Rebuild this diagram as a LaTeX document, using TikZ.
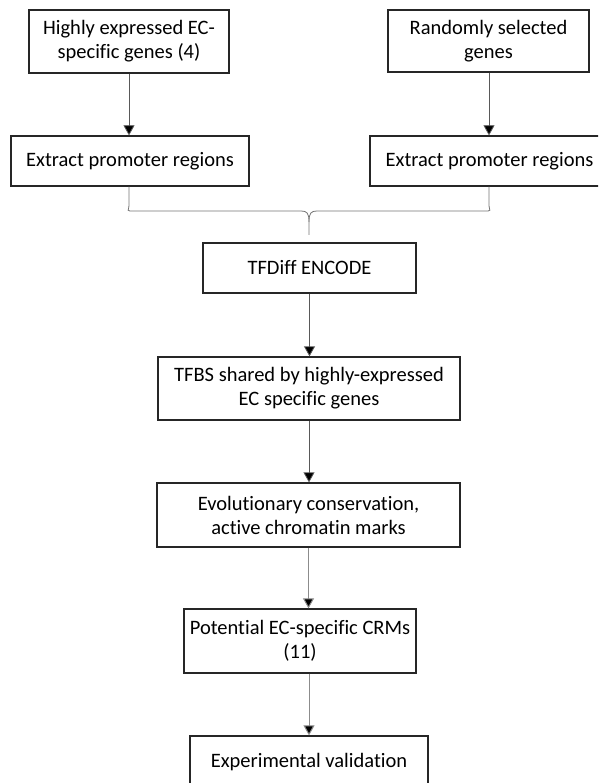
\documentclass[tikz,border=0pt]{standalone}
\usepackage{fontspec}
\setmainfont{Carlito}[Ligatures=NoCommon]
\usetikzlibrary{arrows.meta}
\begin{document}
\begin{tikzpicture}[x=1pt,y=-1pt,
  box/.style={draw=black!85, line width=1.3pt, align=center, inner sep=0pt,
    font=\fontsize{20.5}{24}\selectfont, text=black},
  arr/.style={draw=black!65, line width=0.8pt, -{Triangle[length=10pt,width=11pt,fill=black]}},
  arrg/.style={draw=black!45, line width=1pt, -{Triangle[length=10pt,width=11pt,fill=black]}},
  bracel/.style={draw=black!55, line width=0.8pt}]
\useasboundingbox (0,0) rectangle (598,783);
\clip (0,0) rectangle (598,783);
\node[box, minimum width=200, minimum height=63] (hi) at (129,41.5) {Highly expressed EC-\\specific genes (4)};
\node[box, minimum width=201, minimum height=62] (rnd) at (488.5,41) {Randomly selected\\genes};
\node[box, minimum width=238, minimum height=50] (exl) at (130,161) {Extract promoter regions};
\node[box, minimum width=239, minimum height=50] (exr) at (489.5,161) {Extract promoter regions};
\node[box, minimum width=213, minimum height=50] (tfd) at (309.5,268) {TFDiff ENCODE};
\node[box, minimum width=302, minimum height=63] (tfbs) at (309,388.5) {TFBS shared by highly-expressed\\EC specific genes};
\node[box, minimum width=303, minimum height=64] (evo) at (308.5,515) {Evolutionary conservation,\\active chromatin marks};
\node[box, minimum width=232, minimum height=64] (pot) at (300,641) {Potential EC-specific CRMs\\(11)};
\node[box, minimum width=238, minimum height=52] (exp) at (309,762) {Experimental validation};
\coordinate (bt) at (309,235);
\draw[arr] (hi.south) -- (hi.south |- exl.north);
\draw[arr] ([xshift=0.5]rnd.south) -- ([xshift=0.5]rnd.south |- exr.north);
\draw[bracel] ([xshift=-1]exl.south) -- ++(0,19) .. controls +(0,5) and (125,211) .. (134,211)
  -- (301,211) .. controls (307,211) and (309,213) .. (309,222) -- (bt);
\draw[bracel] ([xshift=-0.5]exr.south) -- ++(0,19) .. controls +(0,5) and (493,211) .. (484,211)
  -- (317,211) .. controls (311,211) and (309,213) .. (309,222);
\draw[arr] (tfd.south) -- (tfd.south |- tfbs.north);
\draw[arr] (tfbs.south) -- (tfbs.south |- evo.north);
\draw[arrg] (evo.south) -- (evo.south |- pot.north);
\draw[arrg] ([xshift=9]pot.south) -- ([xshift=9]pot.south |- exp.north);
\end{tikzpicture}
\end{document}
